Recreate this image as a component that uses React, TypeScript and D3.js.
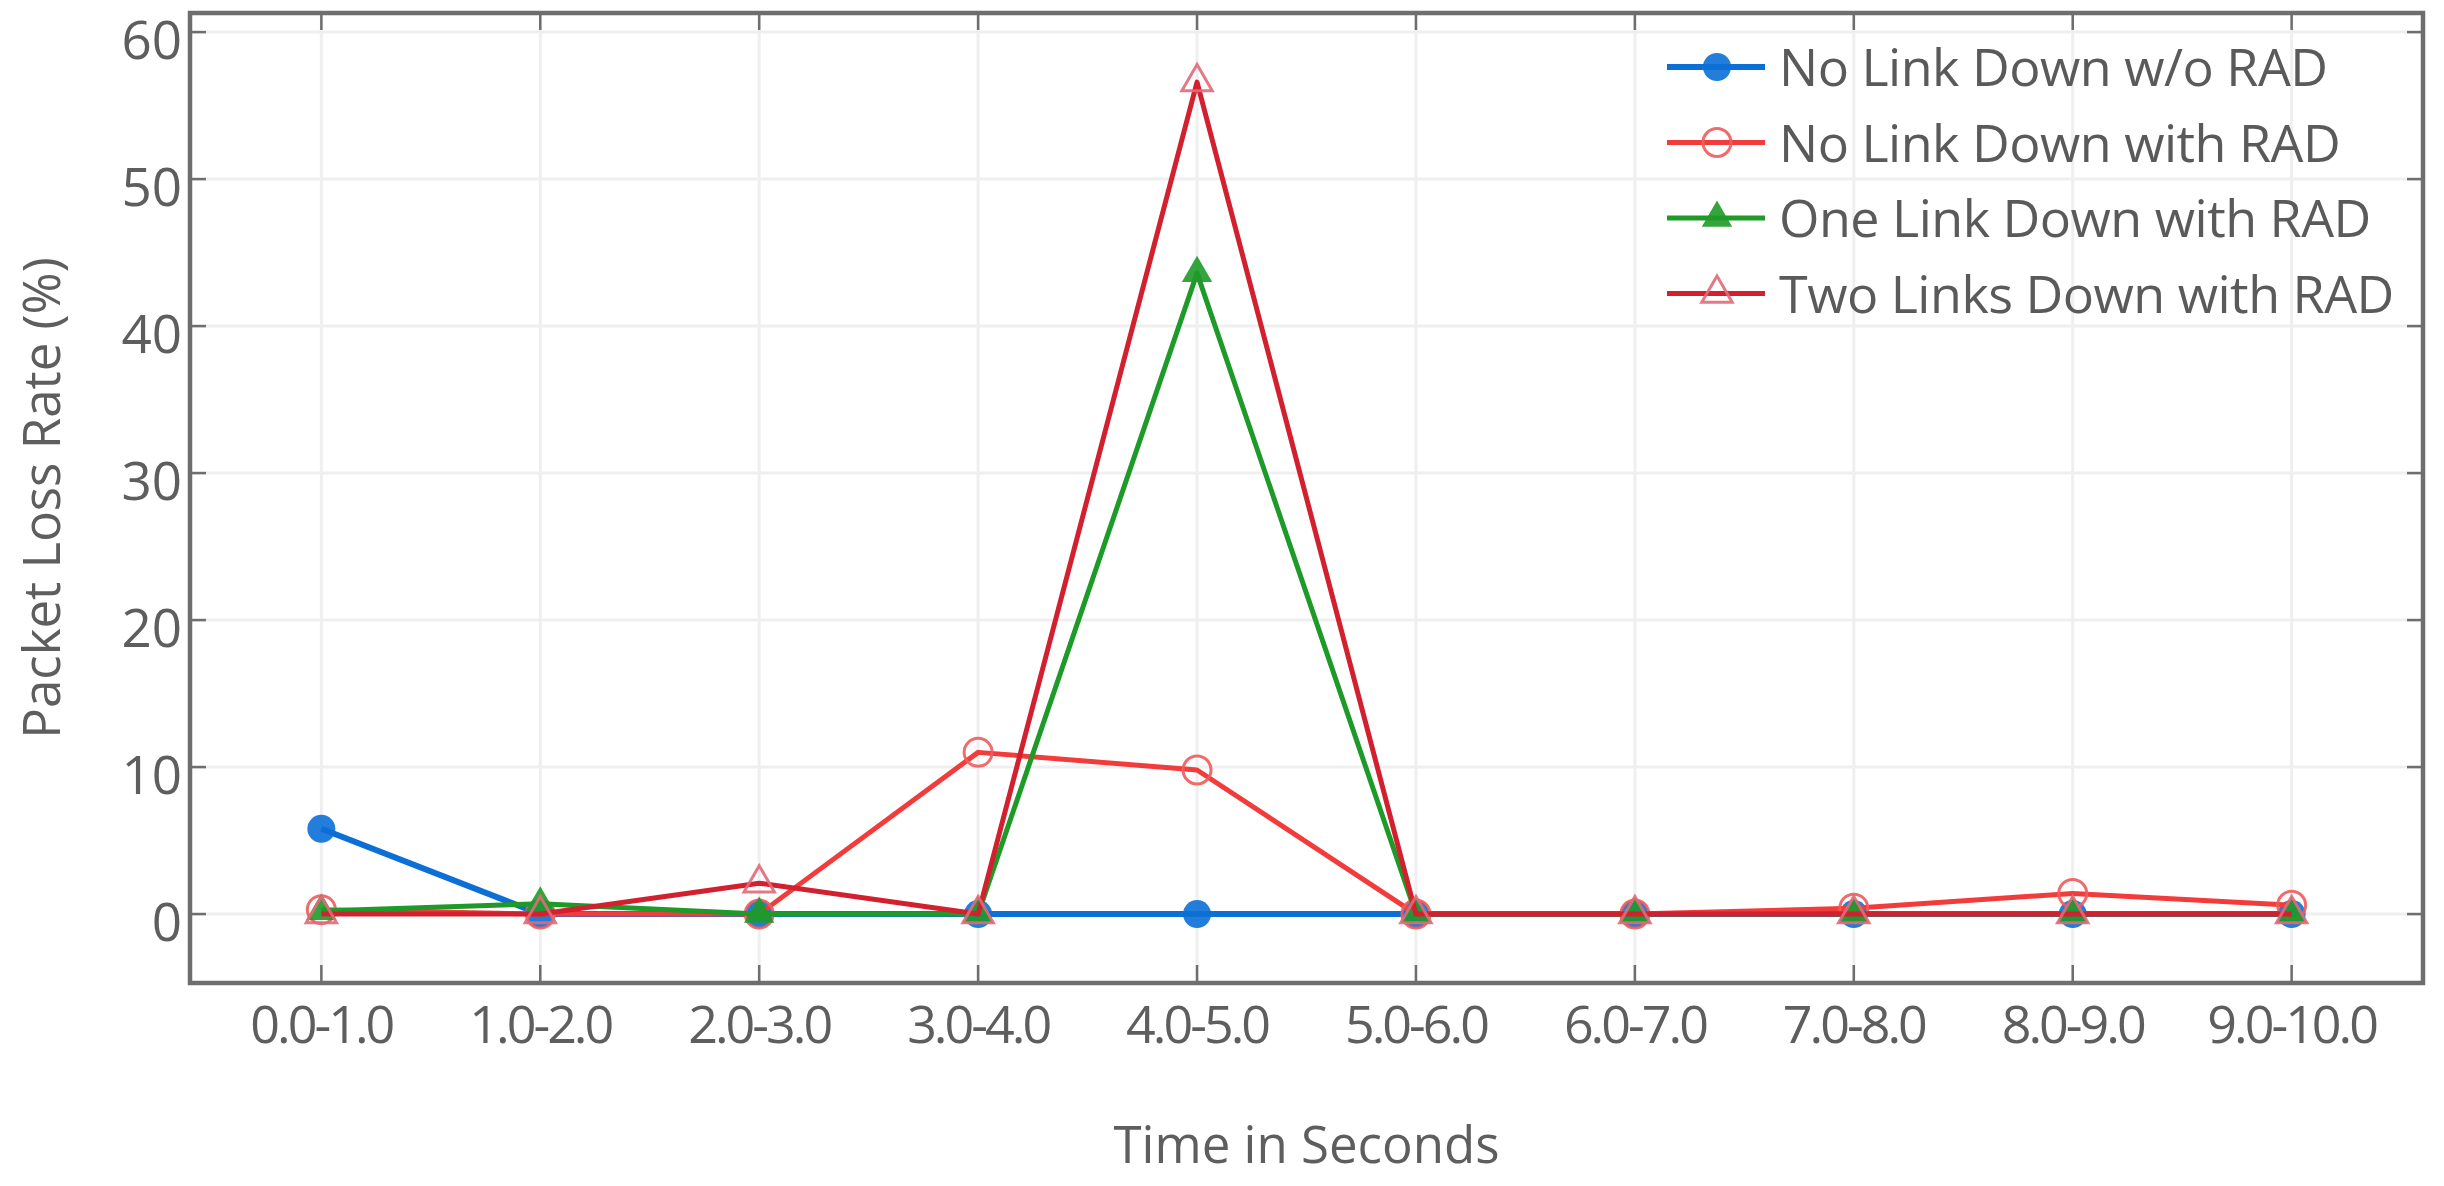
import React, { useRef, useEffect } from 'react';
import * as d3 from 'd3';

const categories = ['0.0-1.0', '1.0-2.0', '2.0-3.0', '3.0-4.0', '4.0-5.0', '5.0-6.0', '6.0-7.0', '7.0-8.0', '8.0-9.0', '9.0-10.0'];
const noLinkWithoutRad = [5.8, 0, 0, 0, 0, 0, 0, 0, 0, 0];
const noLinkWithRad = [0.3, 0, 0, 11.0, 9.8, 0, 0, 0.4, 1.4, 0.6];
const oneLinkWithRad = [0.2, 0.7, 0, 0, 43.6, 0, 0, 0, 0, 0];
const twoLinksWithRad = [0, 0, 2.1, 0, 56.6, 0, 0, 0, 0, 0];
const yTicks = [0, 10, 20, 30, 40, 50, 60];

type Series = {
    name: string;
    values: number[];
    line: string;
    marker: 'circle' | 'triangle';
    fill: string;
    stroke: string;
    width: number;
};

const series: Series[] = [
    { name: 'No Link Down w/o RAD', values: noLinkWithoutRad, line: '#0b6fd6', marker: 'circle', fill: '#0b6fd6', stroke: 'none', width: 6 },
    { name: 'No Link Down with RAD', values: noLinkWithRad, line: '#f23c3c', marker: 'circle', fill: 'none', stroke: '#ee5c5c', width: 5 },
    { name: 'One Link Down with RAD', values: oneLinkWithRad, line: '#1e9a28', marker: 'triangle', fill: '#1e9a28', stroke: 'none', width: 5 },
    { name: 'Two Links Down with RAD', values: twoLinksWithRad, line: '#d3202f', marker: 'triangle', fill: 'none', stroke: '#e06a78', width: 5 },
];

const W = 2444;
const H = 1186;
const FONT = '"Open Sans", "Noto Sans", sans-serif';

const Chart = () => {
    const svgRef = useRef<SVGSVGElement | null>(null);

    useEffect(() => {
        if (!svgRef.current) return;
        const svg = d3.select(svgRef.current);
        svg.selectAll('*').remove();

        const left = 190, right = 2423, top = 13, bottom = 983;

        const x = d3.scalePoint<string>().domain(categories).range([left, right]).padding(0.6);
        const y = d3.scaleLinear().domain([-4.69, 61.3]).range([bottom, top]);

        // grid
        const grid = svg.append('g').attr('stroke', '#efefef').attr('stroke-width', 3);
        grid.selectAll('line.h').data(yTicks).enter().append('line')
            .attr('x1', left).attr('x2', right)
            .attr('y1', d => y(d)).attr('y2', d => y(d));
        grid.selectAll('line.v').data(categories).enter().append('line')
            .attr('x1', d => x(d)!).attr('x2', d => x(d)!)
            .attr('y1', top).attr('y2', bottom);

        // frame
        svg.append('rect')
            .attr('x', left).attr('y', top)
            .attr('width', right - left).attr('height', bottom - top)
            .attr('fill', 'none').attr('stroke', '#6e6e6e').attr('stroke-width', 4.5);

        // inward ticks
        const ticks = svg.append('g').attr('stroke', '#6e6e6e').attr('stroke-width', 2.5);
        yTicks.forEach(t => {
            ticks.append('line').attr('x1', left).attr('x2', left + 16).attr('y1', y(t)).attr('y2', y(t));
            ticks.append('line').attr('x1', right - 16).attr('x2', right).attr('y1', y(t)).attr('y2', y(t));
        });
        categories.forEach(c => {
            ticks.append('line').attr('x1', x(c)!).attr('x2', x(c)!).attr('y1', bottom).attr('y2', bottom - 18);
            ticks.append('line').attr('x1', x(c)!).attr('x2', x(c)!).attr('y1', top).attr('y2', top + 17);
        });

        // tick labels
        svg.append('g').selectAll('text').data(yTicks).enter().append('text')
            .attr('x', left - 8).attr('y', d => y(d) + 27)
            .attr('text-anchor', 'end')
            .attr('font-family', FONT).attr('font-size', 53).attr('fill', '#5e5e5e')
            .text(d => d);

        svg.append('g').selectAll('text').data(categories).enter().append('text')
            .attr('x', d => x(d)!).attr('y', 1043)
            .attr('text-anchor', 'middle')
            .attr('font-family', FONT).attr('font-size', 52).attr('letter-spacing', -3).attr('fill', '#5e5e5e')
            .text(d => d);

        // axis titles
        svg.append('text')
            .attr('x', (left + right) / 2).attr('y', 1163)
            .attr('text-anchor', 'middle')
            .attr('font-family', FONT).attr('font-size', 51).attr('fill', '#5e5e5e')
            .text('Time in Seconds');

        svg.append('text')
            .attr('transform', `translate(60,${(top + bottom) / 2}) rotate(-90)`)
            .attr('text-anchor', 'middle')
            .attr('font-family', FONT).attr('font-size', 51).attr('fill', '#5e5e5e')
            .text('Packet Loss Rate (%)');

        const line = d3.line<number>()
            .x((_, i) => x(categories[i])!)
            .y(d => y(d));

        const triangle = d3.symbol().type(d3.symbolTriangle).size(400);

        const drawMarker = (g: d3.Selection<SVGGElement, unknown, null, undefined>, s: Series, cx: number, cy: number) => {
            if (s.marker === 'circle') {
                g.append('circle')
                    .attr('cx', cx).attr('cy', cy).attr('r', 14)
                    .attr('fill', s.fill).attr('stroke', s.stroke).attr('stroke-width', 3)
                    .attr('opacity', 0.9);
            } else {
                g.append('path')
                    .attr('d', triangle()!)
                    .attr('transform', `translate(${cx},${cy})`)
                    .attr('fill', s.fill).attr('stroke', s.stroke).attr('stroke-width', 3)
                    .attr('opacity', 0.9);
            }
        };

        series.forEach(s => {
            const g = svg.append('g');
            g.append('path')
                .attr('d', line(s.values)!)
                .attr('fill', 'none')
                .attr('stroke', s.line)
                .attr('stroke-width', s.width)
                .attr('stroke-linejoin', 'round');
            s.values.forEach((v, i) => drawMarker(g, s, x(categories[i])!, y(v)));
        });

        // legend
        const legend = svg.append('g');
        series.forEach((s, i) => {
            const cy = 67 + i * 75.5;
            const row = legend.append('g');
            row.append('line')
                .attr('x1', 1667).attr('x2', 1765).attr('y1', cy).attr('y2', cy)
                .attr('stroke', s.line).attr('stroke-width', s.width);
            drawMarker(row, s, 1717, cy);
            row.append('text')
                .attr('x', 1779).attr('y', cy + 19)
                .attr('font-family', FONT).attr('font-size', 52).attr('letter-spacing', -0.5).attr('fill', '#5a5a5a')
                .text(s.name);
        });
    }, []);

    return <svg ref={svgRef} width={W} height={H} style={{ display: 'block', background: '#fff' }}></svg>;
};

export default function App() {
    return (
        <div style={{ margin: -8 }}>
            <Chart />
        </div>
    );
}
